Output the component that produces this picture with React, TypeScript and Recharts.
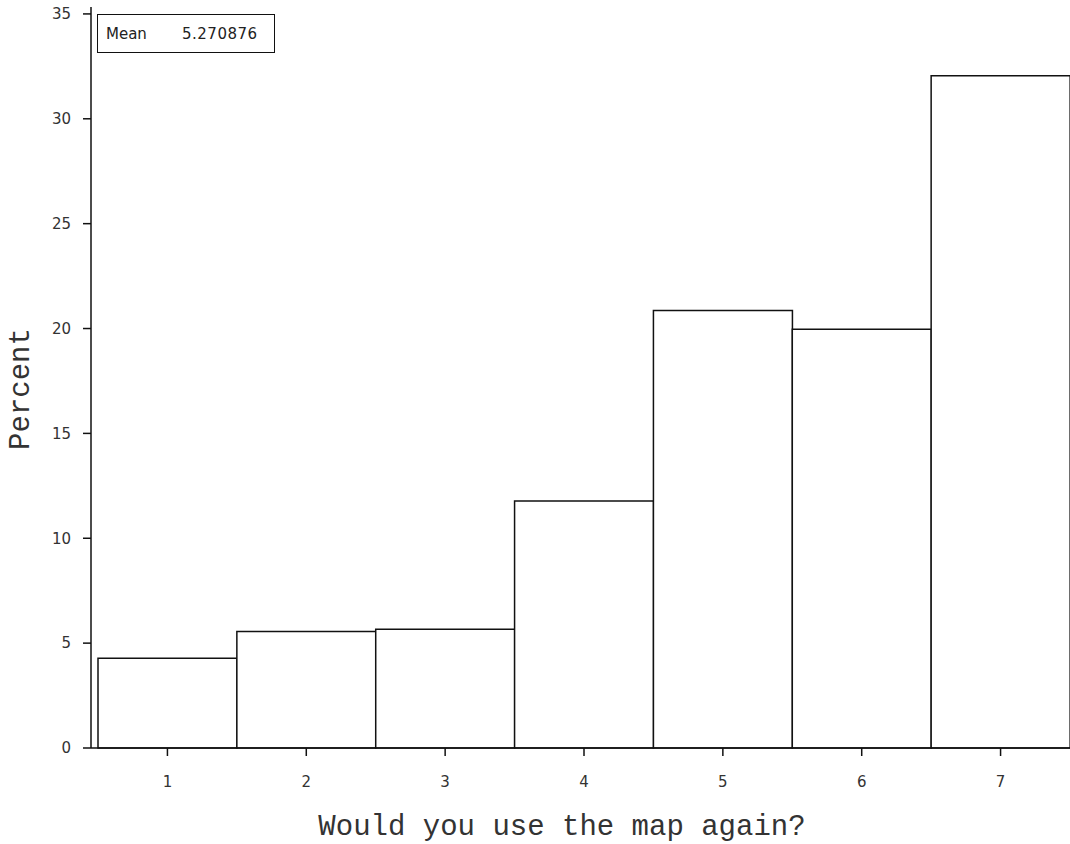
import { BarChart, Bar, XAxis, YAxis, Label } from "recharts"

const categories = ["1", "2", "3", "4", "5", "6", "7"]
const percents = [4.28, 5.55, 5.66, 11.78, 20.86, 19.97, 32.05]
const yTicks = [0, 5, 10, 15, 20, 25, 30, 35]
const meanLabel = "Mean"
const meanValue = "5.270876"

const data = categories.map((c, i) => ({ answer: c, percent: percents[i] }))

const ink = "#111"
const tickStyle = { fontSize: 15, fill: "#333", fontFamily: "DejaVu Sans" }
const titleFont = "Liberation Mono"

export default function App() {
  return (
    <div style={{ position: "absolute", left: 0, top: 0, width: 1070, height: 844, background: "#fff" }}>
      <BarChart
        width={1070}
        height={844}
        data={data}
        margin={{ top: 7, right: 0, bottom: 0, left: 0 }}
        barCategoryGap={0}
        barGap={0}
      >
        <XAxis
          dataKey="answer"
          height={96}
          padding={{ left: 7, right: 0 }}
          stroke={ink}
          strokeWidth={1.5}
          tickSize={8}
          tickMargin={20}
          tick={tickStyle}
        >
          <Label
            content={() => (
              <text x={562} y={835} textAnchor="middle" fontFamily={titleFont} fontSize={29} fill="#333">
                Would you use the map again?
              </text>
            )}
          />
        </XAxis>
        <XAxis
          xAxisId="top"
          dataKey="answer"
          orientation="top"
          height={0}
          tick={false}
          tickLine={false}
          stroke={ink}
          strokeWidth={1.5}
        />
        <YAxis
          width={91}
          domain={[0, 35.33]}
          ticks={yTicks}
          stroke={ink}
          strokeWidth={1.5}
          tickSize={8}
          tickMargin={12}
          tick={tickStyle}
        >
          <Label
            content={() => (
              <text
                x={21}
                y={389}
                transform="rotate(-90, 21, 389)"
                textAnchor="middle"
                dominantBaseline="central"
                fontFamily={titleFont}
                fontSize={29}
                fill="#333"
              >
                Percent
              </text>
            )}
          />
        </YAxis>
        <Bar dataKey="percent" fill="#fff" stroke={ink} strokeWidth={1.5} isAnimationActive={false} />
      </BarChart>
      <div
        style={{
          position: "absolute",
          left: 97,
          top: 14,
          width: 176,
          height: 37,
          border: `1.5px solid ${ink}`,
          fontFamily: "DejaVu Sans",
          fontSize: 15,
          color: "#222",
          display: "flex",
          alignItems: "center",
        }}
      >
        <span style={{ position: "absolute", left: 8 }}>{meanLabel}</span>
        <span style={{ position: "absolute", left: 84, letterSpacing: 0.5 }}>{meanValue}</span>
      </div>
    </div>
  )
}
